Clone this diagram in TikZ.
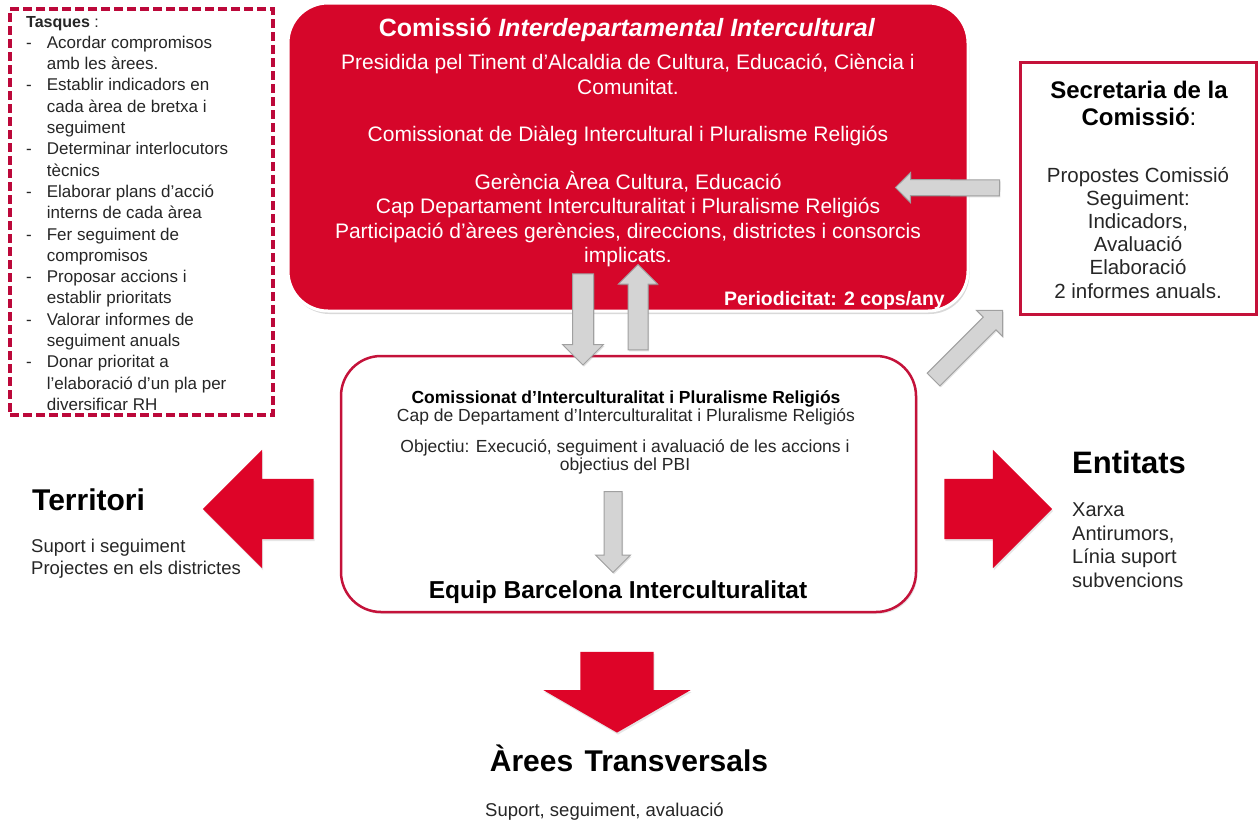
\documentclass[tikz,border=0pt]{standalone}
\usepackage{fontspec}
\setmainfont{Liberation Sans}
\usetikzlibrary{shapes,arrows,positioning,calc,shadows}

\definecolor{comred}{RGB}{214,6,42}
\definecolor{arrowred}{RGB}{222,4,40}
\definecolor{boxred}{RGB}{196,18,58}
\definecolor{dashred}{RGB}{188,8,58}
\definecolor{arrowgrey}{RGB}{212,212,212}
\definecolor{arrowedge}{RGB}{160,160,160}
\definecolor{bodytext}{RGB}{38,38,38}

% block arrow laid from one point to another
\newcommand{\blockarrow}[4]{%
  \path let \p1=($(#4)-(#3)$), \n1={veclen(\x1,\y1)} in
    (#3) -- (#4) node[#1, midway, sloped, allow upside down, minimum height=\n1] (#2) {};}

\begin{document}
\begin{tikzpicture}[x=1pt, y=-1pt, node font=\fontsize{17.5}{21}\selectfont,
    txt/.style={anchor=base, inner sep=0pt, text=bodytext},
    bigarrow/.style={single arrow, fill=arrowred, draw=none, inner xsep=0pt,
      text height=0pt, text depth=0pt, minimum width=0pt,
      drop shadow={shadow xshift=1pt, shadow yshift=-2pt, opacity=.2}},
    greyarrow/.style={single arrow, fill=arrowgrey, draw=arrowedge, line width=1pt,
      inner xsep=0pt, text height=0pt, text depth=0pt, minimum width=0pt,
      drop shadow={shadow xshift=1pt, shadow yshift=-1.5pt, opacity=.25}}]
    \useasboundingbox (0,0) rectangle (1258,820);
    %
    % tasks (multi-line nodes below sit on the baseline of their last line)
    \node[draw=dashred, line width=3.2pt, dash pattern=on 9pt off 4pt, fill=white,
      minimum width=263pt, minimum height=406pt, inner sep=0pt] (tasks) at (141.5,212) {};
    \node[txt, anchor=base west, font=\fontsize{17}{21.3}\selectfont] (tasklist) at (26,27) {%
      \begin{tabular}[t]{@{}l@{\hspace{15pt}}l@{}}
        \multicolumn{2}{@{}l}{\fontsize{16}{19}\selectfont\textbf{Tasques} :}\\
        - & Acordar compromisos\\
          & amb les àrees.\\
        - & Establir indicadors en\\
          & cada àrea de bretxa i\\
          & seguiment\\
        - & Determinar interlocutors\\
          & tècnics\\
        - & Elaborar plans d'acció\\
          & interns de cada àrea\\
        - & Fer seguiment de\\
          & compromisos\\
        - & Proposar accions i\\
          & establir prioritats\\
        - & Valorar informes de\\
          & seguiment anuals\\
        - & Donar prioritat a\\
          & l'elaboració d'un pla per\\
          & diversificar RH
      \end{tabular}};
    %
    % commission
    \node[fill=comred, draw=white, line width=3pt, rounded corners=40pt, inner sep=0pt,
      minimum width=680pt, minimum height=308pt,
      drop shadow={shadow xshift=1.5pt, shadow yshift=-3pt, opacity=.3}] (com) at (628,157) {};
    \node[txt, text=white, font=\bfseries\fontsize{25}{29}\selectfont] (comtitle) at (627,36)
      {Comissió \textit{Interdepartamental Intercultural}};
    \node[txt, text=white, align=center, font=\fontsize{21}{24.5}\selectfont] (combody) at (628,262.5)
      {Presidida pel Tinent d’Alcaldia de Cultura, Educació, Ciència i\\Comunitat.\\[23pt]
       Comissionat de Diàleg Intercultural i Pluralisme Religiós\\[23pt]
       Gerència Àrea Cultura, Educació\\
       Cap Departament Interculturalitat i Pluralisme Religiós\\
       Participació d’àrees gerències, direccions, districtes i consorcis\\implicats.};
    \node[txt, anchor=base east, text=white, font=\bfseries\fontsize{19.5}{23}\selectfont] (period)
      at (945,305) {Periodicitat: 2 cops/any};
    %
    % secretariat
    \node[draw=boxred, line width=3pt, fill=white, inner sep=0pt,
      minimum width=236pt, minimum height=252pt] (sec) at (1138,188) {};
    \node[txt, text=black, align=center, font=\bfseries\fontsize{24}{27}\selectfont] (sectitle)
      at (1139,125.5) {Secretaria de la\\Comissió\textmd{:}};
    \node[txt, align=center, font=\fontsize{20.5}{23.2}\selectfont] (secbody) at (1138,298)
      {Propostes Comissió\\Seguiment:\\Indicadors,\\Avaluació\\Elaboració\\2 informes anuals.};
    %
    % team
    \node[draw=boxred, line width=2.5pt, fill=white, rounded corners=40pt, inner sep=0pt,
      minimum width=575pt, minimum height=256pt,
      drop shadow={shadow xshift=1.5pt, shadow yshift=-2pt, opacity=.2}] (mid) at (628.5,484) {};
    \node[txt, text=black, font=\bfseries\fontsize{17.5}{20}\selectfont] (midtitle) at (626,403.5)
      {Comissionat d’Interculturalitat i Pluralisme Religiós};
    \node[txt] (midsub) at (626,421.5)
      {Cap de Departament d'Interculturalitat i Pluralisme Religiós};
    \node[txt, align=center, font=\fontsize{17.5}{16}\selectfont] (midobj) at (625,470)
      {Objectiu: Execució, seguiment i avaluació de les accions i\\objectius del PBI};
    \node[txt, text=black, font=\bfseries\fontsize{24.5}{28}\selectfont] (equip) at (618,598)
      {Equip Barcelona Interculturalitat};
    %
    % targets
    \node[txt, anchor=base west, text=black, font=\bfseries\fontsize{30}{34}\selectfont] (terr)
      at (32,510.5) {Territori};
    \node[txt, anchor=base west, align=left, font=\fontsize{18.5}{22}\selectfont] (terrtxt)
      at (31,574.5) {Suport i seguiment\\Projectes en els districtes};
    \node[txt, anchor=base west, text=black, font=\bfseries\fontsize{31}{35}\selectfont] (ent)
      at (1072,473) {Entitats};
    \node[txt, anchor=base west, align=left, font=\fontsize{20}{23.5}\selectfont] (enttxt)
      at (1072,587) {Xarxa\\Antirumors,\\Línia suport\\subvencions};
    \node[txt, text=black, font=\bfseries\fontsize{30}{34}\selectfont] (areas)
      at (629,771) {Àrees\hspace{3pt} Transversals};
    \node[txt, anchor=base west, font=\fontsize{18.5}{22}\selectfont] (areastxt)
      at (485,816) {Suport, seguiment, avaluació};
    %
    % arrow ends
    \coordinate (downA) at ([xshift=-45pt, yshift=44pt]com.south);
    \coordinate (downB) at ([xshift=-45.5pt, yshift=-5pt]mid.north);
    \coordinate (upA) at ([xshift=9.5pt]mid.north);
    \coordinate (upB) at ([xshift=10pt, yshift=43pt]com.south);
    \coordinate (backA) at ([xshift=-15pt]sec.west);
    \coordinate (backB) at ([xshift=-70pt, yshift=-30.5pt]com.east);
    \coordinate (diagA) at ([xshift=13pt, yshift=-28pt]mid.north east);
    \coordinate (diagB) at ([xshift=-19pt, yshift=2pt]sec.south west);
    \coordinate (innerA) at (613,487);
    \coordinate (innerB) at (613,568);
    \coordinate (terrA) at ([xshift=-11pt, yshift=-25pt]mid.west);
    \coordinate (terrB) at (218,509);
    \coordinate (entA) at ([xshift=12pt, yshift=-25pt]mid.east);
    \coordinate (entB) at (1037,509);
    \coordinate (areasA) at ([xshift=-11.5pt, yshift=-28pt]mid.south);
    \coordinate (areasB) at (617,722);
    %
    \blockarrow{greyarrow, inner ysep=10pt, single arrow head extend=10pt}{down}{downA}{downB}
    \blockarrow{greyarrow, inner ysep=9.5pt, single arrow head extend=9.5pt}{up}{upA}{upB}
    \blockarrow{greyarrow, inner ysep=7.5pt, single arrow head extend=7pt}{back}{backA}{backB}
    \blockarrow{greyarrow, inner ysep=8.5pt, single arrow head extend=9.5pt}{diag}{diagA}{diagB}
    \blockarrow{greyarrow, inner ysep=8.5pt, single arrow head extend=8.5pt}{inner}{innerA}{innerB}
    %
    \blockarrow{bigarrow, inner ysep=30pt, single arrow head extend=29pt}{toterr}{terrA}{terrB}
    \blockarrow{bigarrow, inner ysep=30pt, single arrow head extend=29pt}{toent}{entA}{entB}
    \blockarrow{bigarrow, inner ysep=36.5pt, single arrow head extend=37pt,
      single arrow tip angle=120}{toareas}{areasA}{areasB}
\end{tikzpicture}
\end{document}
